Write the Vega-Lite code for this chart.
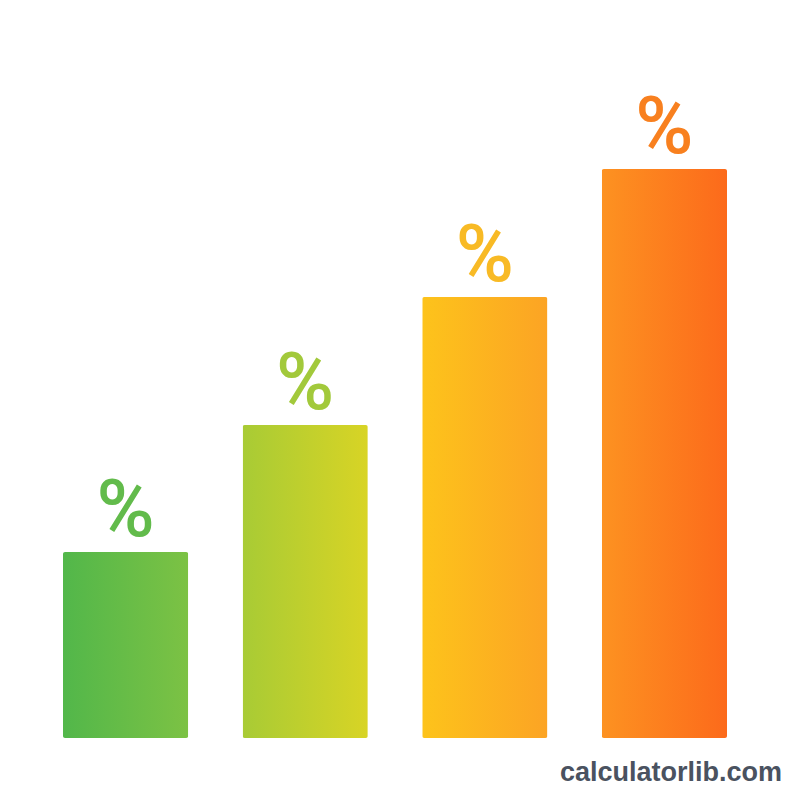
{
  "$schema": "https://vega.github.io/schema/vega-lite/v6.json",
  "width": 800,
  "height": 760,
  "autosize": {"type": "none"},
  "padding": {"left": 0, "top": 0, "right": 0, "bottom": 40},
  "background": "white",
  "config": {"view": {"stroke": null}},
  "title": {
    "text": "calculatorlib.com",
    "orient": "bottom",
    "anchor": "end",
    "baseline": "alphabetic",
    "offset": 21,
    "dx": -18,
    "font": "Liberation Sans",
    "fontSize": 27,
    "fontWeight": "bold",
    "color": "#4a5260"
  },
  "data": {
    "values": [
      {"k": "A", "v": 186},
      {"k": "B", "v": 313},
      {"k": "C", "v": 441},
      {"k": "D", "v": 569}
    ]
  },
  "encoding": {
    "x": {"field": "k", "type": "nominal", "axis": null,
      "scale": {"range": [63, 727], "paddingInner": 0.303, "paddingOuter": 0}},
    "y": {"field": "v", "type": "quantitative", "axis": null,
      "scale": {"domain": [0, 738], "range": [738, 0], "nice": false, "zero": true}}
  },
  "layer": [
    {
      "mark": {"type": "bar", "cornerRadius": 2},
      "encoding": {
        "fill": {
          "condition": [
            {"test": "datum.k === 'A'", "value": {"gradient": "linear", "x1": 0, "y1": 0, "x2": 1, "y2": 0, "stops": [{"offset": 0, "color": "#52b74a"}, {"offset": 1, "color": "#7cc244"}]}},
            {"test": "datum.k === 'B'", "value": {"gradient": "linear", "x1": 0, "y1": 0, "x2": 1, "y2": 0, "stops": [{"offset": 0, "color": "#a8cb35"}, {"offset": 1, "color": "#d8d425"}]}},
            {"test": "datum.k === 'C'", "value": {"gradient": "linear", "x1": 0, "y1": 0, "x2": 1, "y2": 0, "stops": [{"offset": 0, "color": "#fdc31b"}, {"offset": 1, "color": "#fca424"}]}}
          ],
          "value": {"gradient": "linear", "x1": 0, "y1": 0, "x2": 1, "y2": 0, "stops": [{"offset": 0, "color": "#fd9221"}, {"offset": 1, "color": "#fc6a1b"}]}
        }
      }
    },
    {
      "mark": {"type": "text", "text": "%", "baseline": "alphabetic", "align": "center", "dy": -16, "font": "Roboto", "fontSize": 79, "fontWeight": 500},
      "encoding": {
        "color": {
          "condition": [
            {"test": "datum.k === 'A'", "value": "#62bb4b"},
            {"test": "datum.k === 'B'", "value": "#a2c93b"},
            {"test": "datum.k === 'C'", "value": "#f8ba25"}
          ],
          "value": "#f8801f"
        }
      }
    }
  ]
}
